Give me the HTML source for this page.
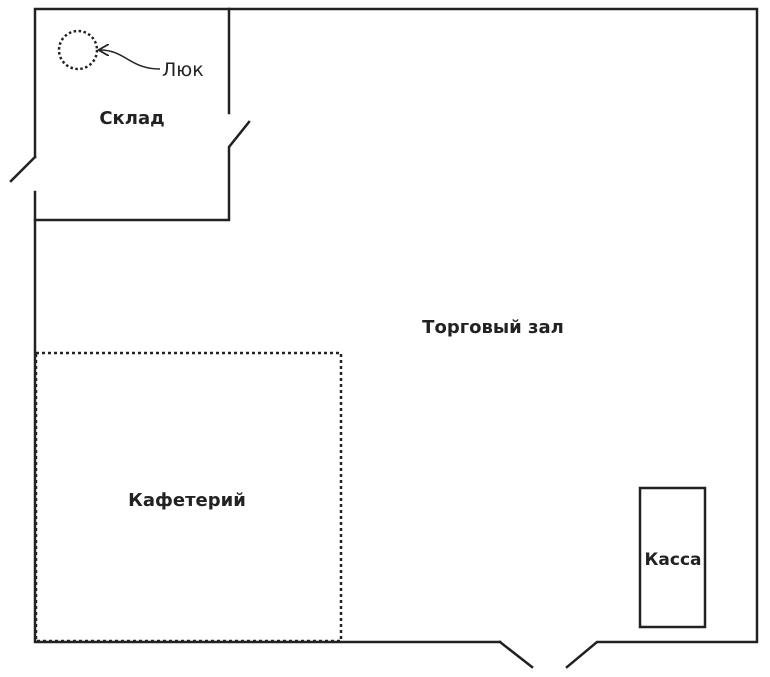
<!DOCTYPE html>
<html><head><meta charset="utf-8"><style>
html,body{margin:0;padding:0;background:#fff;width:770px;height:677px;overflow:hidden}
text{font-family:"DejaVu Sans","Liberation Sans",sans-serif;fill:#222}
</style></head><body>
<svg width="770" height="677" viewBox="0 0 770 677" xmlns="http://www.w3.org/2000/svg">
<defs><marker id="a" markerWidth="8" markerHeight="8" refX="6" refY="4" orient="auto"><path d="M0,0 L7,4 L0,8" fill="none" stroke="#222" stroke-width="1.2"/></marker></defs>
<g stroke="#222" stroke-width="2.5" fill="none" stroke-linecap="square">
<polyline points="35,157 35,9 757,9 757,642 597,642 567,667"/>
<polyline points="500,642 532,667"/>
<polyline points="500,642 35,642 35,192"/>
<line x1="35" y1="157" x2="11" y2="181"/>
<polyline points="229,9 229,113"/>
<polyline points="249,122 229,147 229,220 35,220"/>
<rect x="640" y="488" width="65" height="139"/>
</g>
<rect x="36" y="353" width="305" height="288" fill="none" stroke="#222" stroke-width="2.5" stroke-dasharray="3,3"/>
<circle cx="78" cy="50" r="19" fill="none" stroke="#222" stroke-width="2.5" stroke-dasharray="2.5,2.5"/>
<path d="M160,69 C130,69 125,50 100,50" fill="none" stroke="#222" stroke-width="1.5" marker-end="url(#a)"/>
<text x="162" y="76" font-size="19" fill="#444">Люк</text>
<text x="132" y="124" font-size="18" font-weight="bold" text-anchor="middle">Склад</text>
<text x="493" y="333" font-size="18" font-weight="bold" text-anchor="middle">Торговый зал</text>
<text x="187" y="506" font-size="18" font-weight="bold" text-anchor="middle">Кафетерий</text>
<text x="673" y="565" font-size="17" font-weight="bold" text-anchor="middle">Касса</text>
</svg>
</body></html>
